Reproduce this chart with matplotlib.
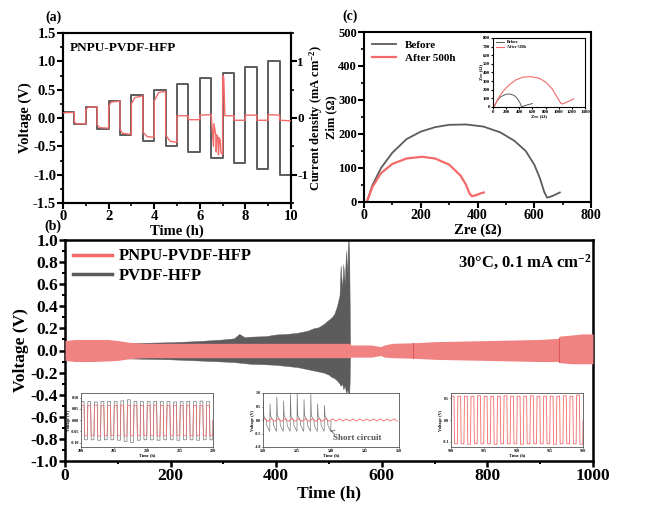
import numpy as np
import matplotlib
matplotlib.use("Agg")
import matplotlib.pyplot as plt
from matplotlib.ticker import MultipleLocator, FormatStrFormatter

plt.rcParams['font.family'] = ['Liberation Serif', 'DejaVu Serif']
plt.rcParams['font.weight'] = 'bold'
plt.rcParams['axes.labelweight'] = 'bold'
plt.rcParams['axes.unicode_minus'] = False
plt.rcParams['mathtext.fontset'] = 'custom'
plt.rcParams['mathtext.rm'] = 'Liberation Serif:bold'
plt.rcParams['mathtext.bf'] = 'Liberation Serif:bold'
plt.rcParams['mathtext.default'] = 'rm'

RED = "#f26a6a"
RED_BAND = "#f08282"
GRAY = "#5c5c5c"

# ---- (a) rate test ----
step_t = [0, 0.5, 1, 1.5, 2, 2.5, 3, 3.5, 4, 4.5, 5, 5.5, 6, 6.5, 7, 7.5, 8, 8.5, 9, 9.5, 10]
step_j = [0.1, -0.1, 0.2, -0.2, 0.3, -0.3, 0.4, -0.4, 0.5, -0.5, 0.6, -0.6, 0.7, -0.7,
          0.8, -0.8, 0.9, -0.9, 1.0, -1.0, -1.0]
rate_t = [0, 0.5, 0.5, 0.6, 1.0, 1.0, 1.1, 1.5, 1.5, 1.6, 2.0, 2.0, 2.1, 2.5, 2.5, 2.6, 3.0,
          3.0, 3.15, 3.5, 3.5, 3.7, 4.0, 4.0, 4.2, 4.5, 4.5, 4.7, 5.0, 5.0, 5.5, 5.5, 6.0,
          6.0, 6.5, 6.52, 6.6, 6.62, 6.7, 6.72, 6.75, 6.8, 6.82, 6.85, 6.9, 6.92, 7.0,
          7.0, 7.05, 7.1, 7.5, 7.5, 8.0, 8.0, 8.5, 8.5, 9.0, 9.0, 9.5, 9.5, 10]
rate_v = [0.09, 0.1, -0.08, -0.1, -0.1, 0.15, 0.19, 0.2, -0.12, -0.17, -0.18, 0.2, 0.28,
          0.3, -0.2, -0.27, -0.29, 0.25, 0.36, 0.39, -0.25, -0.33, -0.34, 0.3, 0.45, 0.47,
          -0.3, -0.41, -0.43, 0.04, 0.04, -0.03, -0.03, 0.05, 0.06, -0.07, -0.5, -0.1,
          -0.3, -0.6, -0.3, -0.35, -0.65, -0.35, -0.4, -0.6, -0.65, 0.75, 0.72, 0.04,
          0.04, -0.04, -0.04, 0.05, 0.05, -0.04, -0.04, 0.06, 0.05, -0.04, -0.05]

# ---- (b) long term cycling, envelopes of the dense oscillation ----
red_t = [0, 20, 50, 80, 100, 120, 150, 200, 300, 400, 500, 540, 541, 580, 598, 605, 620,
         660, 700, 800, 900, 935, 936, 960, 980, 1000]
red_up = [0.09, 0.1, 0.1, 0.1, 0.09, 0.075, 0.065, 0.065, 0.065, 0.065, 0.065, 0.065,
          0.05, 0.05, 0.035, 0.05, 0.065, 0.07, 0.08, 0.09, 0.1, 0.11, 0.13, 0.14, 0.15, 0.15]
red_lo = [-0.09, -0.1, -0.1, -0.095, -0.09, -0.075, -0.065, -0.065, -0.065, -0.065, -0.065,
          -0.065, -0.06, -0.06, -0.045, -0.06, -0.065, -0.07, -0.08, -0.09, -0.1, -0.1,
          -0.11, -0.12, -0.12, -0.12]
red_breaks = [660, 935]

gray_t = [0, 50, 100, 150, 200, 250, 300, 320, 330, 340, 350, 380, 400, 420, 440, 460,
          470, 480, 490, 500, 505, 510, 515, 520, 522, 525, 527, 530, 532, 534, 536, 537,
          538, 539, 540]
gray_up = [0.06, 0.06, 0.065, 0.07, 0.075, 0.085, 0.1, 0.11, 0.15, 0.12, 0.125, 0.13,
           0.145, 0.15, 0.16, 0.18, 0.2, 0.21, 0.24, 0.28, 0.3, 0.33, 0.4, 0.5, 0.77,
           0.55, 0.78, 0.6, 0.9, 0.7, 1.0, 0.6, 1.0, 0.5, 0.0]
gray_lo = [-0.06, -0.06, -0.07, -0.075, -0.08, -0.09, -0.1, -0.105, -0.11, -0.115, -0.12,
           -0.125, -0.13, -0.14, -0.15, -0.17, -0.18, -0.19, -0.2, -0.22, -0.24, -0.25,
           -0.27, -0.3, -0.32, -0.3, -0.35, -0.32, -0.38, -0.35, -0.4, -0.35, -0.42, -0.3, 0.0]

# insets: one value per half cycle (charge, discharge), 1 h per cycle
in1_start = 200
in1_gray_hi = [0.082, 0.082, 0.08, 0.082, 0.083, 0.082, 0.085, 0.09, 0.083, 0.082,
               0.082, 0.083, 0.082, 0.082, 0.08, 0.082, 0.083, 0.082, 0.084, 0.082]
in1_gray_lo = [-0.088, -0.088, -0.09, -0.088, -0.088, -0.09, -0.095, -0.1, -0.09, -0.088,
               -0.088, -0.09, -0.088, -0.088, -0.09, -0.088, -0.088, -0.09, -0.088, -0.088]
in1_red_hi = [0.065, 0.065, 0.066, 0.065, 0.064, 0.065, 0.066, 0.065, 0.065, 0.064,
              0.065, 0.066, 0.065, 0.065, 0.064, 0.065, 0.066, 0.065, 0.065, 0.065]
in1_red_lo = [-0.07, -0.07, -0.071, -0.07, -0.069, -0.07, -0.071, -0.07, -0.07, -0.069,
              -0.07, -0.071, -0.07, -0.07, -0.069, -0.07, -0.071, -0.07, -0.07, -0.07]

in2_start = 530
in2_gray_peak = [0.75, 0.6, 0.85, 0.7, 0.95, 1.0, 0.75, 0.95, 0.6, 0.55]
in2_red_amp = [0.05, 0.05, 0.05, 0.05, 0.05, 0.05, 0.05, 0.05, 0.05, 0.05,
               0.04, 0.04, 0.04, 0.04, 0.04, 0.04, 0.04, 0.04, 0.04, 0.04]

in3_start = 900
in3_red_hi = [0.11, 0.11, 0.11, 0.11, 0.112, 0.11, 0.11, 0.11, 0.112, 0.11,
              0.11, 0.11, 0.112, 0.11, 0.11, 0.11, 0.11, 0.112, 0.11, 0.115]
in3_red_lo = [-0.11, -0.11, -0.112, -0.11, -0.11, -0.11, -0.112, -0.11, -0.11, -0.11,
              -0.112, -0.11, -0.11, -0.11, -0.11, -0.112, -0.11, -0.11, -0.11, -0.112]

# ---- (c) EIS ----
bef_x = [12, 30, 60, 100, 150, 200, 250, 300, 360, 420, 480, 530, 570, 600, 620, 635,
         645, 655, 670, 690]
bef_y = [5, 50, 100, 145, 185, 207, 220, 227, 228, 222, 205, 180, 150, 110, 70, 30,
         13, 15, 20, 28]
aft_x = [12, 30, 60, 100, 150, 205, 250, 300, 340, 360, 372, 380, 395, 410, 422]
aft_y = [5, 45, 85, 112, 128, 133, 128, 110, 78, 50, 25, 17, 20, 25, 28]
ins_bef_x = [20, 60, 120, 200, 260, 320, 370, 410, 430, 450, 500, 600]
ins_bef_y = [10, 70, 120, 148, 150, 135, 100, 50, 10, 5, 20, 40]
ins_aft_x = [20, 80, 150, 250, 350, 450, 570, 700, 800, 900, 980, 1030, 1060, 1120, 1230]
ins_aft_y = [10, 100, 180, 260, 315, 345, 352, 335, 290, 210, 110, 45, 35, 55, 95]


def px(l, t, r, b):
    return [l / 660, 1 - b / 507, (r - l) / 660, (b - t) / 507]


def frame(ax, lw=1.5):
    for s in ax.spines.values():
        s.set_linewidth(lw)
    ax.tick_params(which='major', direction='out', width=lw, length=4)
    ax.tick_params(which='minor', direction='out', width=lw * 0.8, length=2.5)


def square_wave(start, hi, lo):
    t, v = [], []
    for k in range(len(hi)):
        t0 = start + k
        t += [t0, t0 + 0.04, t0 + 0.46, t0 + 0.5, t0 + 0.54, t0 + 0.96]
        v += [0, hi[k], hi[k], 0, lo[k], lo[k]]
    t.append(start + len(hi))
    v.append(0)
    return t, v


fig = plt.figure(figsize=(6.6, 5.07), dpi=100)

# panel (a)
ax = fig.add_axes(px(63, 33, 291, 203))
ax2 = ax.twinx()
ax2.step(step_t, step_j, where='post', color=GRAY, lw=1.4)
ax2.plot([0, 0], [0, 0.1], color=GRAY, lw=1.4)
ax.plot(rate_t, rate_v, color=RED, lw=1.0, zorder=5)
ax.set_zorder(ax2.get_zorder() + 1)
ax.patch.set_visible(False)
ax.set_xlim(0, 10)
ax.set_ylim(-1.5, 1.5)
ax2.set_ylim(-1.5, 1.5)
ax.xaxis.set_major_locator(MultipleLocator(2))
ax.xaxis.set_minor_locator(MultipleLocator(1))
ax.yaxis.set_major_locator(MultipleLocator(0.5))
ax.yaxis.set_minor_locator(MultipleLocator(0.25))
ax2.yaxis.set_major_locator(MultipleLocator(1))
ax2.yaxis.set_minor_locator(MultipleLocator(0.5))
ax.set_xlabel("Time (h)", fontsize=10.5, labelpad=1)
ax.set_ylabel("Voltage (V)", fontsize=10.5, labelpad=1)
ax2.set_ylabel("Current density (mA cm$^{-2}$)", fontsize=9)
ax2.yaxis.set_label_coords(1.07, 0.5)
ax.text(0.03, 0.95, "PNPU-PVDF-HFP", transform=ax.transAxes, fontsize=9.5,
        va='top', ha='left')
for a in (ax, ax2):
    frame(a)
    a.tick_params(labelsize=10.5, pad=1)
ax2.tick_params(labelsize=9.5, pad=0.5)
fig.text(53 / 660, 1 - 17 / 507, "(a)", fontsize=10, ha='center', va='center')

# panel (c)
axc = fig.add_axes(px(364, 32, 591, 202))
axc.plot(bef_x, bef_y, color=GRAY, lw=1.3, label="Before")
axc.plot(aft_x, aft_y, color=RED, lw=1.6, label="After 500h")
axc.set_xlim(0, 800)
axc.set_ylim(0, 500)
axc.xaxis.set_major_locator(MultipleLocator(200))
axc.xaxis.set_minor_locator(MultipleLocator(100))
axc.yaxis.set_major_locator(MultipleLocator(100))
axc.yaxis.set_minor_locator(MultipleLocator(50))
axc.set_xlabel("Zre (Ω)", fontsize=10.5, labelpad=1)
axc.set_ylabel("Zim (Ω)", fontsize=9)
axc.yaxis.set_label_coords(-0.118, 0.5)
frame(axc)
axc.tick_params(labelsize=9, pad=1)
axc.tick_params(axis='x', labelsize=10)
axc.legend(loc='upper left', frameon=False, fontsize=8, handlelength=2.2,
           borderaxespad=0.3, labelspacing=0.3)
fig.text(350 / 660, 1 - 16 / 507, "(c)", fontsize=10, ha='center', va='center')

axi = fig.add_axes(px(493, 38, 585, 107))
axi.plot(ins_bef_x, ins_bef_y, color=GRAY, lw=0.7, label="Before")
axi.plot(ins_aft_x, ins_aft_y, color=RED, lw=0.8, label="After 500h")
axi.set_xlim(0, 1400)
axi.set_ylim(0, 800)
axi.xaxis.set_major_locator(MultipleLocator(200))
axi.yaxis.set_major_locator(MultipleLocator(100))
frame(axi, 0.8)
axi.tick_params(labelsize=3.5, length=1.5, pad=0.5)
axi.set_xlabel("Zre (Ω)", fontsize=3.5, labelpad=0)
axi.set_ylabel("Zre (Ω)", fontsize=3.5, labelpad=0)
axi.legend(loc='upper left', frameon=False, fontsize=3, handlelength=2,
           borderaxespad=0.2, labelspacing=0.2)

# panel (b)
axb = fig.add_axes(px(65, 240, 593, 461))
axb.fill_between(gray_t, gray_lo, gray_up, color=GRAY, lw=0.3, edgecolor=GRAY)
axb.fill_between(red_t, red_lo, red_up, color=RED_BAND, lw=0, zorder=3)
for tb in red_breaks:
    i = red_t.index(tb)
    axb.plot([tb, tb], [red_lo[i], red_up[i]], color="#e05858", lw=0.8, zorder=4)
axb.plot([], [], color=RED, lw=2.5, label="PNPU-PVDF-HFP")
axb.plot([], [], color=GRAY, lw=2.5, label="PVDF-HFP")
axb.set_xlim(0, 1000)
axb.set_ylim(-1.0, 1.0)
axb.xaxis.set_major_locator(MultipleLocator(200))
axb.xaxis.set_minor_locator(MultipleLocator(100))
axb.yaxis.set_major_locator(MultipleLocator(0.2))
axb.yaxis.set_minor_locator(MultipleLocator(0.1))
axb.set_xlabel("Time (h)", fontsize=12.5, labelpad=1)
axb.set_ylabel("Voltage (V)", fontsize=12.5, labelpad=1)
frame(axb, 1.8)
axb.tick_params(labelsize=12.5, pad=1)
axb.legend(loc='upper left', frameon=False, fontsize=12, handlelength=2.3,
           borderaxespad=0.1, labelspacing=0.2, handletextpad=0.4)
axb.text(0.997, 0.94, "30°C, 0.1 mA cm$^{-2}$", transform=axb.transAxes, fontsize=12,
         ha='right', va='top')
fig.text(53 / 660, 1 - 226 / 507, "(b)", fontsize=10, ha='center', va='center')


def style_inset(a, xlim, ylim, xt, yt):
    a.set_xlim(*xlim)
    a.set_ylim(*ylim)
    a.set_xticks(xt)
    a.set_yticks(yt)
    for s in a.spines.values():
        s.set_linewidth(0.6)
        s.set_color("#555555")
    a.tick_params(labelsize=3, length=1, width=0.5, pad=0.5)
    a.set_xlabel("Time (h)", fontsize=3.2, labelpad=0)
    a.set_ylabel("Voltage (V)", fontsize=3.2, labelpad=0)


b1 = fig.add_axes(px(81, 393, 213, 447))
t, v = square_wave(in1_start, in1_gray_hi, in1_gray_lo)
b1.plot(t, v, color="#777777", lw=0.5)
t, v = square_wave(in1_start, in1_red_hi, in1_red_lo)
b1.plot(t, v, color=RED, lw=0.5)
style_inset(b1, (200, 220), (-0.12, 0.12), [200, 205, 210, 215, 220],
            [-0.10, -0.05, 0.0, 0.05, 0.10])
b1.yaxis.set_major_formatter(FormatStrFormatter('%.2f'))

b2 = fig.add_axes(px(263, 393, 399, 447))
gt, gv = [], []
for k, pk in enumerate(in2_gray_peak):
    t0 = in2_start + k
    gt += [t0, t0 + 0.03, t0 + 0.12, t0 + 0.5, t0 + 0.55, t0 + 0.97]
    gv += [-0.35, pk, 0.15, -0.02, -0.2, -0.42]
gt += [in2_start + len(in2_gray_peak)]
gv += [-0.05]
b2.plot(gt, gv, color="#777777", lw=0.5)
rt, rv = [], []
for k, am in enumerate(in2_red_amp):
    t0 = in2_start + k
    rt += [t0, t0 + 0.25, t0 + 0.5, t0 + 0.75]
    rv += [0, am, 0, -am]
b2.plot(rt, rv, color=RED, lw=0.6)
style_inset(b2, (530, 550), (-1.0, 1.0), [530, 535, 540, 545, 550],
            [-1.0, -0.5, 0.0, 0.5, 1.0])
b2.annotate("Short circuit", xy=(539.9, -0.4), xytext=(540.3, -0.75), fontsize=6.5,
            color="#555555", arrowprops=dict(arrowstyle='->', color="#555555", lw=0.5))

b3 = fig.add_axes(px(451, 393, 583, 447))
t, v = square_wave(in3_start, in3_red_hi, in3_red_lo)
b3.plot(t, v, color=RED, lw=0.6)
style_inset(b3, (900, 920), (-0.125, 0.125), [900, 905, 910, 915, 920], [-0.1, 0.0, 0.1])

fig.savefig("out.png", dpi=100)
